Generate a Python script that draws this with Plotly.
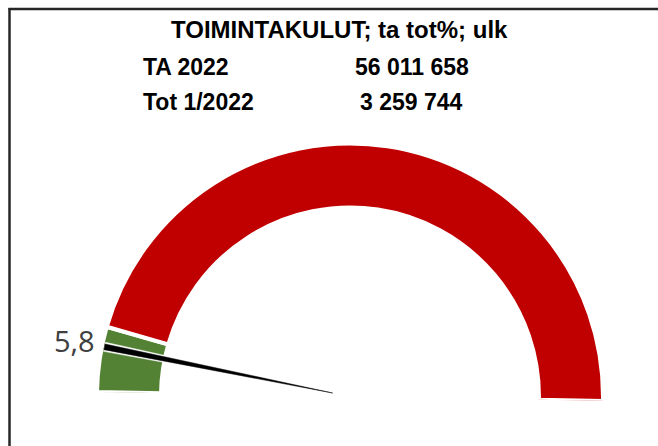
import math
import plotly.graph_objects as go

# ---- data ----
title_text = "TOIMINTAKULUT; ta tot%; ulk"
row_labels = ["TA 2022", "Tot 1/2022"]
row_values = [56011658, 3259744]
band_from = [0, 8.33]
band_to = [8.33, 100]
band_colors = ["#548235", "#C00000"]
needle_value = 5.8
scale_max = 100

# ---- style ----
deg = 180.0 / scale_max
inner = 0.747
needle_outer = 0.99
rmax = 1.08

fig = go.Figure()

fig.add_trace(go.Barpolar(
    theta=[(a + b) / 2 * deg for a, b in zip(band_from, band_to)],
    width=[(b - a) * deg for a, b in zip(band_from, band_to)],
    base=[inner] * len(band_from),
    r=[1 - inner] * len(band_from),
    marker=dict(color=band_colors, line=dict(color="white", width=4)),
    hoverinfo="skip",
    showlegend=False,
))

nt = needle_value * deg
# white halo then black needle
for hw, tip, col in [(1.06, 0.04, "white"), (0.66, 0.07, "black")]:
    fig.add_trace(go.Scatterpolar(
        r=[needle_outer, needle_outer, tip, needle_outer],
        theta=[nt - hw, nt + hw, nt, nt - hw],
        mode="lines",
        fill="toself",
        fillcolor=col,
        line=dict(color=col, width=0.5),
        hoverinfo="skip",
        showlegend=False,
    ))

fig.add_trace(go.Scatterpolar(
    r=[1.03],
    theta=[nt],
    mode="text",
    text=[f"{needle_value:.1f}".replace(".", ",")],
    textposition="middle left",
    textfont=dict(family="Open Sans", size=29, color="#404040"),
    cliponaxis=False,
    hoverinfo="skip",
    showlegend=False,
))

W, H = 658, 446
cx, cy, R1 = 350, 396.5, 253
R = R1 * rmax
bottom = cy + R * math.sin(math.radians(1))
fig.update_layout(
    width=W, height=H,
    margin=dict(l=0, r=0, t=0, b=0),
    paper_bgcolor="white",
    plot_bgcolor="white",
    showlegend=False,
    polar=dict(
        domain=dict(x=[(cx - R) / W, (cx + R) / W],
                    y=[(H - bottom) / H, (H - (cy - R)) / H]),
        sector=[-1, 179],
        bgcolor="rgba(0,0,0,0)",
        hole=0,
        radialaxis=dict(visible=False, range=[0, rmax], showgrid=False, showline=False,
                        showticklabels=False, ticks=""),
        angularaxis=dict(visible=False, rotation=179, direction="clockwise",
                         thetaunit="degrees", showgrid=False, showline=False,
                         showticklabels=False, ticks=""),
    ),
)

font_b = dict(family="Liberation Sans, Arial", size=23, color="black", weight="bold")
fmt = lambda v: f"{v:,}".replace(",", " ")

annotations = [
    dict(text=title_text, x=339.5 / W, y=(H - 30) / H, xref="paper", yref="paper",
         xanchor="center", yanchor="middle", showarrow=False,
         font=dict(font_b, size=24)),
]
row_y = [67, 102]
for lab, val, yy in zip(row_labels, row_values, row_y):
    annotations.append(dict(text=lab, x=141 / W, y=(H - yy) / H, xref="paper", yref="paper",
                            xanchor="left", yanchor="middle", showarrow=False, font=font_b))
    annotations.append(dict(text=fmt(val), x=411.5 / W, y=(H - yy) / H, xref="paper", yref="paper",
                            xanchor="center", yanchor="middle", showarrow=False, font=font_b))
fig.update_layout(annotations=annotations)

# frame lines (top and left)
fig.add_shape(type="line", xref="paper", yref="paper", x0=8.5 / W, x1=1, y0=(H - 9) / H, y1=(H - 9) / H,
              line=dict(color="#262626", width=2.5))
fig.add_shape(type="line", xref="paper", yref="paper", x0=9.5 / W, x1=9.5 / W, y0=0, y1=(H - 8) / H,
              line=dict(color="#262626", width=2.5))

fig.write_html("out.html",
               config={"displayModeBar": False},
               post_script="document.body.style.margin='0';document.body.style.overflow='hidden';")
